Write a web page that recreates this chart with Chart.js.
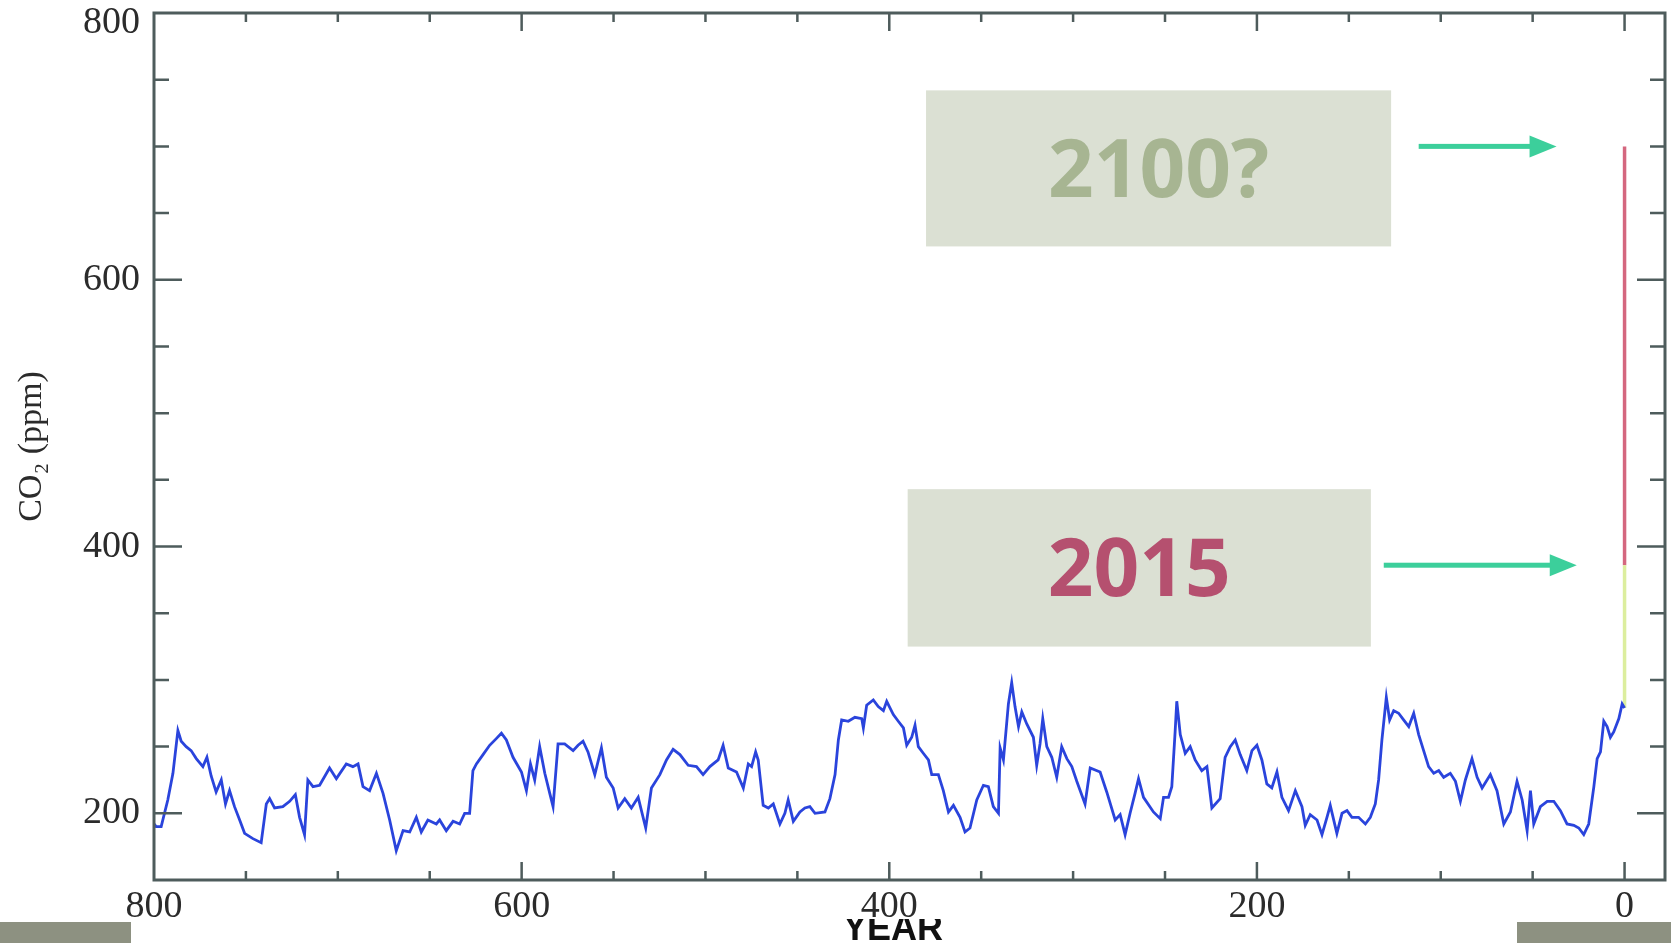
<!DOCTYPE html>
<html>
<head>
<meta charset="utf-8">
<script src="https://cdn.jsdelivr.net/npm/chart.js@4.4.1/dist/chart.umd.min.js"></script>
<style>
    html, body { margin: 0; padding: 0; background: #fff; overflow: hidden; }
    #wrap { width: 1671px; height: 943px; position: relative; }
</style>
</head>
<body>
<div id="wrap"><canvas id="co2Chart"></canvas></div>
<script>
// Ice core CO2, thousands of years before present
const years = [
    800,798.8,796.1,792.5,789.7,787,785.2,782.5,779.8,777,773.4,771.2,768.9,766.2,763.4,761.1,758.9,756.2,753.4,750.7,
    746.2,741.7,738.9,737.1,734.4,729.9,726.2,723.1,720.8,718.1,716.3,713.5,709.9,704.5,700.8,695.4,691.8,689,686.3,682.7,
    679,675.4,671.8,668.2,664.5,660.9,657.3,654.6,651,646.4,
    644.6,641,637.3,633.7,631,628.3,626.5,624.6,621,617.4,613.8,611,608.3,604.7,600.1,597.4,595.2,592.9,590.2,587.4,
    584.7,582.9,580.2,576.6,572,569.3,566.6,563.9,560.2,556.6,553.9,550.2,547.5,543.9,540.3,536.6,532.5,529.4,524.8,521.2,
    517.6,513.9,509.4,504.9,501.3,497.6,493.1,490.4,487.6,
    483.1,479.4,476.7,474.9,472.7,471.3,468.6,465.8,463.1,459.5,456.8,455,452.2,448.6,445.9,443.2,440.4,435,432.3,429.5,
    427.7,425.9,422.3,418.7,415,414.1,412.3,408.7,406,403.2,401.4,397.8,395.1,392.3,390.5,387.8,386,384.2,381.5,378.7,
    376.9,373.3,370.6,367.8,365.1,361.5,358.8,356.1,352.4,348.8,346.1,343.4,340.6,339.7,337.9,335.2,333.4,331.6,329.7,327.9,
    325.2,321.6,319.8,318,316.5,314.3,311.6,308.9,306.2,303.4,300.7,298,293.5,290.7,285.3,281.7,277.1,274.4,271.7,269,
    266.3,264.4,261.7,256.3,252.6,250.8,248.1,246.3,244.5,243.6,241.7,239,236.3,233.6,230,227.2,224.5,220,217.3,214.5,
    211.8,209.1,205.5,202.7,200,197.3,194.6,191.9,189.1,186.4,182.8,179.1,175.5,173.7,171,
    167.3,164.6,161.9,160.1,156.5,153.7,151,148.3,144.7,141,138.3,135.6,133.8,132,129.6,127.8,125.6,122.9,120.2,117.4,
    114.7,112,109.3,106.6,103.8,101.1,98.4,94.8,92,89.3,86.6,83,80.2,77.5,73,69.4,65.7,62.1,58.5,55.7,
    53,51.2,49.4,45.8,42.1,38.5,34.9,31.3,27.6,24.9,22.2,19.5,16.7,14.9,13.1,11.3,9.5,7.7,5.9,3.1,1.3,0
];
const co2 = [
    192,190,190,210,230,262,254,250,247,241,235,242,228,216,225,207,217,205,195,185,
    181,178,207,211,204,205,209,214,197,184,225,220,221,234,226,237,235,237,220,217,
    230,215,195,172,187,186,197,186,195,192,
    195,187,194,192,200,200,232,237,244,251,256,260,255,242,231,217,237,225,250,230,
    215,205,252,252,247,251,254,246,229,249,227,219,204,211,204,212,189,219,229,240,
    248,244,236,235,229,235,240,251,234,
    231,219,237,235,246,240,206,204,207,192,200,210,194,201,204,205,200,201,211,229,
    255,270,269,272,271,264,281,285,280,277,284,274,269,264,251,257,266,250,245,240,
    229,229,217,201,206,197,186,189,210,221,220,205,200,249,240,282,298,280,265,276,
    267,257,236,252,271,250,242,227,250,241,235,224,207,234,231,216,195,199,184,200,
    215,226,212,201,196,212,212,220,261,284,259,245,250,240,232,235,204,211,242,250,
    255,244,232,247,251,240,222,219,231,212,202,217,205,191,199,
    195,184,197,206,185,200,202,197,197,192,197,207,225,255,287,270,277,275,270,265,
    275,259,247,235,230,232,227,230,224,209,225,241,227,219,229,217,192,201,224,210,
    187,217,192,205,209,209,202,192,191,189,184,192,220,241,246,269,265,257,261,271,282,279
];

// the jump at year 0: up to today, then the guess for 2100
const todayYears = [0, 0];
const todayCo2 = [279, 386];
const futureYears = [0, 0];
const futureCo2 = [386, 700];

const xLabels = [800, 600, 400, 200, 0];
const yLabels = [200, 400, 600, 800];

// callout boxes (data coordinates)
const callouts = [
    { text: '2100?', x0: 380, x1: 127, y0: 742, y1: 625, color: '#a7b592', arrow: [112, 37, 700] },
    { text: '2015',  x0: 390, x1: 138, y0: 443, y1: 325, color: '#b5506f', arrow: [131, 26, 386] }
];

const axisColor = '#4e5c5c';

function toPoints(xs, ys) {
    return xs.map((x, i) => ({ x: x, y: ys[i] }));
}

const extras = {
    id: 'extras',
    afterDraw(chart) {
        const ctx = chart.ctx;
        const a = chart.chartArea;
        const sx = chart.scales.x, sy = chart.scales.y;
        ctx.save();

        // frame
        ctx.strokeStyle = axisColor;
        ctx.lineWidth = 3;
        ctx.strokeRect(a.left, a.top, a.right - a.left, a.bottom - a.top);

        // inward ticks on all four sides
        ctx.lineWidth = 2.5;
        ctx.beginPath();
        sx.ticks.forEach(t => {
            if (t.value < 0 || t.value >= 800) return;
            const px = sx.getPixelForValue(t.value);
            const len = xLabels.includes(t.value) ? 18 : 9;
            ctx.moveTo(px, a.bottom); ctx.lineTo(px, a.bottom - len);
            ctx.moveTo(px, a.top); ctx.lineTo(px, a.top + len);
        });
        sy.ticks.forEach(t => {
            if (t.value <= 150 || t.value >= 800) return;
            const py = sy.getPixelForValue(t.value);
            const len = yLabels.includes(t.value) ? 28 : 15;
            ctx.moveTo(a.left, py); ctx.lineTo(a.left + len, py);
            ctx.moveTo(a.right, py); ctx.lineTo(a.right - len, py);
        });
        ctx.stroke();

        // callout boxes + arrows
        callouts.forEach(c => {
            const l = sx.getPixelForValue(c.x0), r = sx.getPixelForValue(c.x1);
            const t = sy.getPixelForValue(c.y0), b = sy.getPixelForValue(c.y1);
            ctx.fillStyle = '#dbe0d3';
            ctx.fillRect(l, t, r - l, b - t);
            ctx.fillStyle = c.color;
            ctx.font = 'bold 80px "Open Sans", sans-serif';
            ctx.textAlign = 'center';
            ctx.textBaseline = 'alphabetic';
            ctx.fillText(c.text, (l + r) / 2, (t + b) / 2 + 80 * 0.357);

            const ax0 = sx.getPixelForValue(c.arrow[0]);
            const ax1 = sx.getPixelForValue(c.arrow[1]);
            const ay = sy.getPixelForValue(c.arrow[2]);
            ctx.fillStyle = '#3ccf9b';
            ctx.fillRect(ax0, ay - 2.5, ax1 - ax0 - 24, 5);
            ctx.beginPath();
            ctx.moveTo(ax1, ay);
            ctx.lineTo(ax1 - 27, ay - 11);
            ctx.lineTo(ax1 - 27, ay + 11);
            ctx.closePath();
            ctx.fill();
        });

        // axis title, only the middle of it shows in the original
        ctx.save();
        ctx.beginPath();
        ctx.rect(0, 919, chart.width, 30);
        ctx.clip();
        ctx.fillStyle = '#111';
        ctx.font = 'bold 36px "Liberation Sans", Arial, sans-serif';
        ctx.textAlign = 'center';
        ctx.textBaseline = 'alphabetic';
        ctx.fillText('YEAR', 893, 940);
        ctx.restore();

        // slide background peeking in at the bottom corners
        ctx.fillStyle = '#8d9181';
        ctx.fillRect(0, 922, 131, 21);
        ctx.fillRect(1517, 922, chart.width - 1517, 21);
        ctx.restore();
    }
};

const serif = '"Liberation Serif", "Times New Roman", serif';

new Chart(document.getElementById('co2Chart'), {
    type: 'line',
    data: {
        datasets: [
            {
                label: 'CO2',
                data: toPoints(years, co2),
                borderColor: '#2a44dc',
                borderWidth: 2.8,
                pointRadius: 0,
                tension: 0
            },
            {
                label: 'today',
                data: toPoints(todayYears, todayCo2),
                borderColor: '#dcee9e',
                borderWidth: 3.5,
                pointRadius: 0
            },
            {
                label: '2100',
                data: toPoints(futureYears, futureCo2),
                borderColor: '#d4677f',
                borderWidth: 3.5,
                pointRadius: 0
            }
        ]
    },
    options: {
        responsive: true,
        maintainAspectRatio: false,
        animation: false,
        devicePixelRatio: 1,
        layout: { padding: { top: 13, right: 6, left: 0, bottom: 0 } },
        plugins: {
            legend: { display: false },
            tooltip: { enabled: false }
        },
        scales: {
            x: {
                type: 'linear',
                reverse: true,
                min: -22,
                max: 800,
                grid: { display: false, drawTicks: false },
                border: { display: false },
                ticks: {
                    stepSize: 50,
                    includeBounds: false,
                    autoSkip: false,
                    maxRotation: 0,
                    padding: 4,
                    color: '#2b2b2b',
                    font: { family: serif, size: 38 },
                    callback: v => xLabels.includes(v) ? String(v) : ''
                },
                afterFit: s => { s.height = 63; s.paddingLeft = 0; s.paddingRight = 0; }
            },
            y: {
                min: 150,
                max: 800,
                grid: { display: false, drawTicks: false },
                border: { display: false },
                ticks: {
                    stepSize: 50,
                    autoSkip: false,
                    padding: 14,
                    color: '#2b2b2b',
                    // the top label sits a little lower than its tick
                    font: c => (c.tick && c.tick.value === 800)
                        ? { family: serif, size: 38, lineHeight: 0.55 }
                        : { family: serif, size: 38 },
                    callback: v => v === 800 ? ['', '800'] : (yLabels.includes(v) ? String(v) : '')
                },
                title: {
                    display: true,
                    text: 'CO₂ (ppm)',
                    color: '#2b2b2b',
                    font: { family: serif, size: 34 },
                    padding: { top: 12, bottom: 0 }
                },
                afterFit: s => { s.width = 154; s.paddingTop = 0; s.paddingBottom = 0; }
            }
        }
    },
    plugins: [extras]
});
</script>
</body>
</html>
